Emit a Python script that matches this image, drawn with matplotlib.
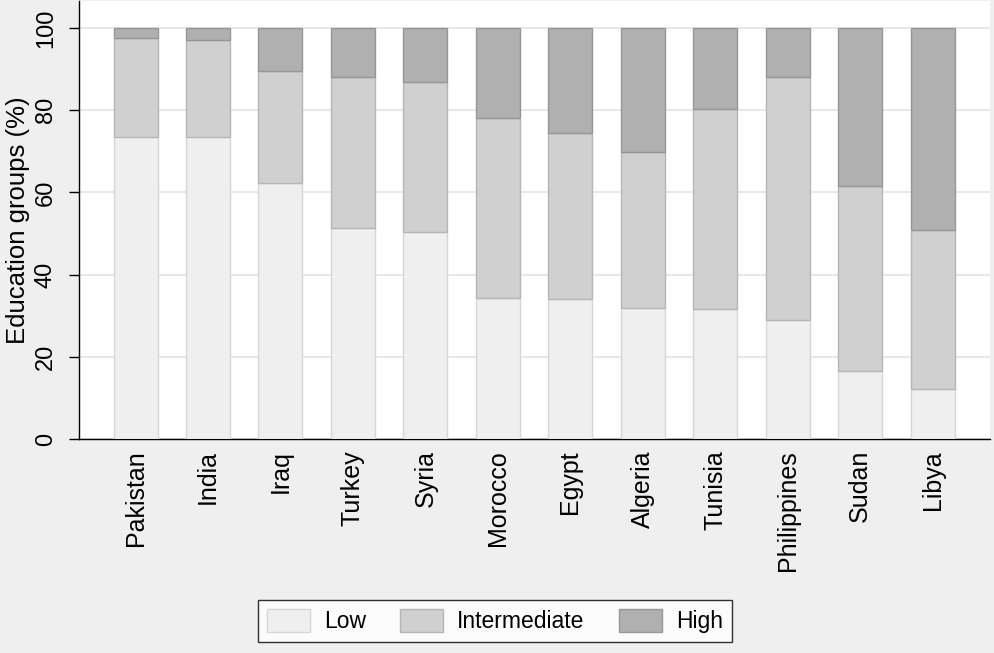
import numpy as np
import matplotlib.pyplot as plt

plt.rcParams['font.family'] = ['Liberation Sans', 'DejaVu Sans']

countries = ["Pakistan", "India", "Iraq", "Turkey", "Syria", "Morocco",
             "Egypt", "Algeria", "Tunisia", "Philippines", "Sudan", "Libya"]
# cumulative tops (%)
low = [73.5, 73.4, 62.2, 51.3, 50.4, 34.2, 34.1, 31.9, 31.6, 28.9, 16.5, 12.2]
low_inter = [97.6, 97.2, 89.6, 88.2, 87.0, 78.2, 74.4, 69.9, 80.2, 88.2, 61.6, 50.8]
inter = [b - a for a, b in zip(low, low_inter)]
high = [100 - b for b in low_inter]

bg = "#efefef"
fills = ["#efefef", "#d0d0d0", "#b0b0b0"]
edges = ["#d6d6d6", "#b6b6b6", "#969696"]

fig = plt.figure(figsize=(9.95, 6.53), dpi=100, facecolor=bg)
ax = fig.add_axes([79/995, 1 - 439/653, 911/995, 438/653])
ax.set_facecolor("white")

x = np.arange(len(countries))
w = 0.607
ax.bar(x, low, w, color=fills[0], edgecolor=edges[0], linewidth=1, label="Low", zorder=3)
ax.bar(x, inter, w, bottom=low, color=fills[1], edgecolor=edges[1], linewidth=1,
       label="Intermediate", zorder=3)
ax.bar(x, high, w, bottom=low_inter, color=fills[2], edgecolor=edges[2], linewidth=1,
       label="High", zorder=3)

ax.set_xlim(-0.78, 11.79)
ax.set_ylim(0, 106.6)
ax.set_yticks([0, 20, 40, 60, 80, 100])
ax.yaxis.grid(True, color="#e8e8e8", linewidth=1.5, zorder=0)
ax.set_axisbelow(True)

for s in ["top", "right"]:
    ax.spines[s].set_visible(False)
for s in ["left", "bottom"]:
    ax.spines[s].set_color("black")
    ax.spines[s].set_linewidth(1)

ax.set_xticks(x)
ax.set_xticklabels(countries, rotation=90, fontsize=18, va="top", ha="center")
ax.tick_params(axis="x", length=0, pad=8)
ax.tick_params(axis="y", length=7, width=1, pad=9, labelsize=17)
for lab in ax.get_yticklabels():
    lab.set_rotation(90)
    lab.set_va("center")

fig.text(18/995, 1 - 220/653, "Education groups (%)", rotation=90,
         ha="center", va="center", fontsize=18.5)

leg = fig.legend(loc="center", bbox_to_anchor=(495/995, 1 - 621/653), ncol=3,
                 fontsize=16.5, frameon=True, fancybox=False, edgecolor="black",
                 handlelength=1.88, handleheight=1.18, columnspacing=1.5,
                 handletextpad=0.6, borderpad=0.4, borderaxespad=0)
leg.get_frame().set_linewidth(1)
leg.get_frame().set_facecolor("white")

fig.savefig("out.png", dpi=100, facecolor=bg)
